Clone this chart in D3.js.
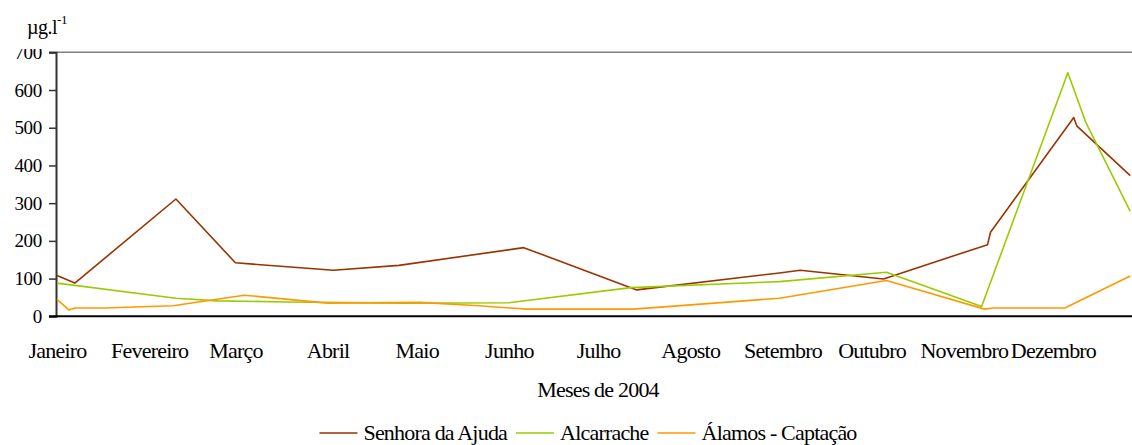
<!DOCTYPE html>
<html>
<head>
<meta charset="utf-8">
<script src="https://cdn.jsdelivr.net/npm/d3@7"></script>
<style>
  body { margin: 0; background: #fff; }
</style>
</head>
<body>
<div id="chart"></div>
<script>
// Month labels (Portuguese) and y ticks
const monthNames = ["Janeiro", "Fevereiro", "Março", "Abril", "Maio", "Junho",
    "Julho", "Agosto", "Setembro", "Outubro", "Novembro", "Dezembro"];
const yTicks = [0, 100, 200, 300, 400, 500, 600, 700];

const seriesNames = ["Senhora da Ajuda", "Alcarrache", "Álamos - Captação"];
const seriesColors = ["#993300", "#99cc00", "#ff9900"];

// Senhora da Ajuda
const senhoraDates = ["2004-01-01", "2004-01-07", "2004-02-10", "2004-03-01", "2004-04-03",
    "2004-04-25", "2004-06-06", "2004-07-14", "2004-08-31", "2004-09-07", "2004-10-05",
    "2004-11-09", "2004-11-10", "2004-12-08", "2004-12-09", "2004-12-27"];
const senhoraValues = [108, 88, 311, 142, 122, 135, 182, 70, 115, 122, 99, 190, 223, 527, 505, 373];

// Alcarrache
const alcarracheDates = ["2004-01-01", "2004-02-10", "2004-02-24", "2004-03-19", "2004-04-25",
    "2004-06-01", "2004-07-12", "2004-08-31", "2004-10-06", "2004-11-07", "2004-12-06",
    "2004-12-12", "2004-12-27"];
const alcarracheValues = [88, 48, 41, 38, 35, 36, 76, 92, 117, 26, 646, 515, 278];

// Álamos - Captação
const alamosDates = ["2004-01-01", "2004-01-05", "2004-01-07", "2004-01-17", "2004-02-09",
    "2004-03-04", "2004-04-01", "2004-05-02", "2004-05-22", "2004-06-07", "2004-07-13",
    "2004-08-31", "2004-10-06", "2004-11-08", "2004-11-11", "2004-12-05", "2004-12-27"];
const alamosValues = [45, 17, 22, 22, 28, 56, 35, 37, 28, 19, 19, 48, 95, 19, 22, 22, 107];

const width = 1132, height = 445;
const serif = "'Liberation Serif', 'DejaVu Serif', 'Noto Serif', 'Nimbus Roman', 'FreeSerif', Georgia, 'Times New Roman', Times, serif";
const parse = d3.timeParse("%Y-%m-%d");

const series = [
    { name: seriesNames[0], color: seriesColors[0], dates: senhoraDates, values: senhoraValues },
    { name: seriesNames[1], color: seriesColors[1], dates: alcarracheDates, values: alcarracheValues },
    { name: seriesNames[2], color: seriesColors[2], dates: alamosDates, values: alamosValues }
].map(s => ({ ...s, points: s.dates.map((d, i) => ({ date: parse(d), value: s.values[i] })) }));

const svg = d3.select("#chart").append("svg")
    .attr("width", width)
    .attr("height", height)
    .style("font-family", serif);

// time axis: Jan 1 at the y axis, ~2.973 px per day
const x = d3.scaleTime()
    .domain([parse("2004-01-01"), parse("2004-12-31")])
    .range([57, 57 + 365 * 2.973]);

const y = d3.scaleLinear()
    .domain([0, 700])
    .range([316.3, 52.3]);

// top border line (700)
svg.append("line")
    .attr("x1", 49).attr("x2", width)
    .attr("y1", y(700)).attr("y2", y(700))
    .attr("stroke", "#7f7f7f").attr("stroke-width", 1.5);

// y axis
const yAxis = svg.append("g")
    .attr("transform", "translate(56,0)")
    .call(d3.axisLeft(y).tickValues(yTicks).tickSize(7).tickPadding(7).tickFormat(d3.format("d")));
yAxis.attr("font-family", null);
yAxis.select(".domain").attr("stroke", "#333").attr("stroke-width", 2);
yAxis.selectAll(".tick line").attr("stroke", "#333").attr("stroke-width", 1.5);
yAxis.selectAll(".tick text")
    .style("font-family", serif)
    .style("font-size", "19px")
    .style("letter-spacing", "-0.3px")
    .attr("fill", "#000");

// bottom axis line
svg.append("line")
    .attr("x1", 49).attr("x2", width)
    .attr("y1", y(0)).attr("y2", y(0))
    .attr("stroke", "#000").attr("stroke-width", 2);

// month labels
const xAxis = svg.append("g")
    .attr("transform", `translate(0,${y(0)})`)
    .call(d3.axisBottom(x)
        .ticks(d3.timeMonth.every(1))
        .tickSize(0)
        .tickPadding(26)
        .tickFormat(d => monthNames[d.getMonth()]));
xAxis.attr("font-family", null);
xAxis.select(".domain").remove();
xAxis.selectAll(".tick text")
    .style("font-family", serif)
    .style("font-size", "22px")
    .style("letter-spacing", "-0.8px")
    .attr("fill", "#000");

// lines
const line = d3.line()
    .x(d => x(d.date))
    .y(d => y(d.value));

svg.append("g")
    .selectAll("path")
    .data(series)
    .join("path")
    .attr("d", d => line(d.points))
    .attr("fill", "none")
    .attr("stroke", d => d.color)
    .attr("stroke-width", 1.6)
    .attr("stroke-linejoin", "round");

// unit label, its box hides the top of the 700 label
svg.append("rect")
    .attr("x", 0).attr("y", 0)
    .attr("width", 48).attr("height", 49)
    .attr("fill", "#fff");

const unit = svg.append("text")
    .attr("x", 27).attr("y", 34)
    .style("font-size", "20px")
    .style("letter-spacing", "-0.5px");
unit.append("tspan").text("µg.l");
unit.append("tspan").attr("dy", -10).style("font-size", "13px").text("-1");

// x axis title
svg.append("text")
    .attr("x", 598).attr("y", 397)
    .attr("text-anchor", "middle")
    .style("font-size", "22px")
    .style("letter-spacing", "-0.8px")
    .text("Meses de 2004");

// legend
const legend = svg.append("g");
let lx = 0;
series.forEach(s => {
    legend.append("line")
        .attr("x1", lx).attr("x2", lx + 38)
        .attr("y1", 433).attr("y2", 433)
        .attr("stroke", s.color).attr("stroke-width", 1.6);
    const t = legend.append("text")
        .attr("x", lx + 44).attr("y", 440)
        .style("font-size", "22px")
        .style("letter-spacing", "-0.8px")
        .text(s.name);
    lx += 44 + t.node().getComputedTextLength() + 9;
});
const legendWidth = lx - 9;
legend.attr("transform", `translate(${588 - legendWidth / 2},0)`);
</script>
</body>
</html>
